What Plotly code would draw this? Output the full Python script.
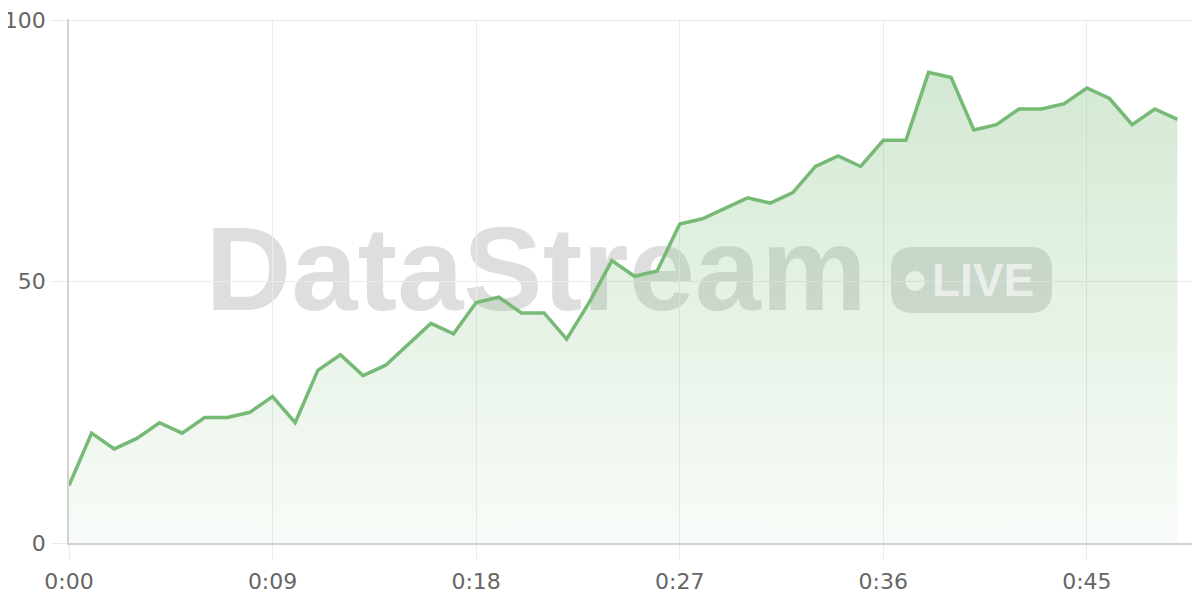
import plotly.graph_objects as go

# 每秒采样一次的数值
seconds = list(range(50))
values = [11, 21, 18, 20, 23, 21, 24, 24, 25, 28,
          23, 33, 36, 32, 34, 38, 42, 40, 46, 47,
          44, 44, 39, 46, 54, 51, 52, 61, 62, 64,
          66, 65, 67, 72, 74, 72, 77, 77, 90, 89,
          79, 80, 83, 83, 84, 87, 85, 80, 83, 81]

x_ticks = [0, 9, 18, 27, 36, 45]
x_tick_labels = [f"{s // 60}:{s % 60:02d}" for s in x_ticks]
y_ticks = [0, 50, 100]

GREEN = "rgb(118,186,118)"
GRID = "#ebebeb"
AXIS = "#d2d2d2"
WM = "rgba(0,0,0,0.13)"

fig = go.Figure()
fig.add_trace(go.Scatter(
    x=seconds,
    y=values,
    mode="lines",
    line=dict(color=GREEN, width=3.5),
    fill="tozeroy",
    fillgradient=dict(
        type="vertical",
        start=0,
        stop=90,
        colorscale=[[0, "rgba(118,186,118,0.05)"], [1, "rgba(118,186,118,0.32)"]],
    ),
    hoverinfo="skip",
))

# 水印: DataStream + LIVE 徽章 (放在网格和曲线之间)
badge_path = ("M -58.5,-33 L 58.5,-33 Q 80.5,-33 80.5,-11 L 80.5,11 "
              "Q 80.5,33 58.5,33 L -58.5,33 Q -80.5,33 -80.5,11 "
              "L -80.5,-11 Q -80.5,-33 -58.5,-33 Z")
shapes = [
    dict(type="rect", xref="paper", yref="paper", x0=0.11, x1=0.716, y0=0.444, y1=0.644,
         line=dict(width=0), fillcolor="rgba(0,0,0,0)", layer="between",
         label=dict(text="DataStream", textposition="middle center",
                    font=dict(family="Liberation Sans", size=119, color=WM, weight="bold"))),
    dict(type="path", xref="paper", yref="paper", xsizemode="pixel", ysizemode="pixel",
         xanchor=0.798, yanchor=0.502, path=badge_path,
         line=dict(width=0), fillcolor=WM, layer="between"),
    dict(type="circle", xref="paper", yref="paper", xsizemode="pixel", ysizemode="pixel",
         xanchor=0.798, yanchor=0.502, x0=-66.5, x1=-46.5, y0=-11, y1=9,
         line=dict(width=0), fillcolor="white", layer="between"),
]

# 页面 body 自带 8px 边距, 所以画布缩小 8px
fig.update_layout(
    width=1192,
    height=592,
    margin=dict(l=61, r=0, t=11, b=57),
    paper_bgcolor="white",
    plot_bgcolor="white",
    showlegend=False,
    shapes=shapes,
    font=dict(family="DejaVu Sans", size=22, color="#666666"),
)
# 徽章里的 LIVE 字样
fig.add_annotation(
    text="LIVE", xref="paper", yref="paper", x=0.808, y=0.502,
    xanchor="center", yanchor="middle", showarrow=False,
    font=dict(family="Liberation Sans", size=46, color="rgba(255,255,255,0.6)", weight="bold"),
)
fig.update_xaxes(
    range=[0, 50],
    tickvals=x_ticks,
    ticktext=x_tick_labels,
    showgrid=True, gridcolor=GRID, gridwidth=1,
    ticks="outside", ticklen=15, tickcolor=GRID, tickwidth=1,
    ticklabelstandoff=3,
    showline=True, linecolor=AXIS, linewidth=1.5,
    zeroline=False, automargin=False,
)
# 上限稍大于 100, 让 100 的网格线不被裁掉
fig.update_yaxes(
    range=[0, 100.2],
    tickvals=y_ticks,
    showgrid=True, gridcolor=GRID, gridwidth=1,
    ticks="outside", ticklen=16, tickcolor=GRID, tickwidth=1,
    ticklabelstandoff=1, ticklabeloverflow="allow",
    showline=True, linecolor=AXIS, linewidth=1.5,
    zeroline=False, automargin=False,
)

fig.write_html("out.html")
